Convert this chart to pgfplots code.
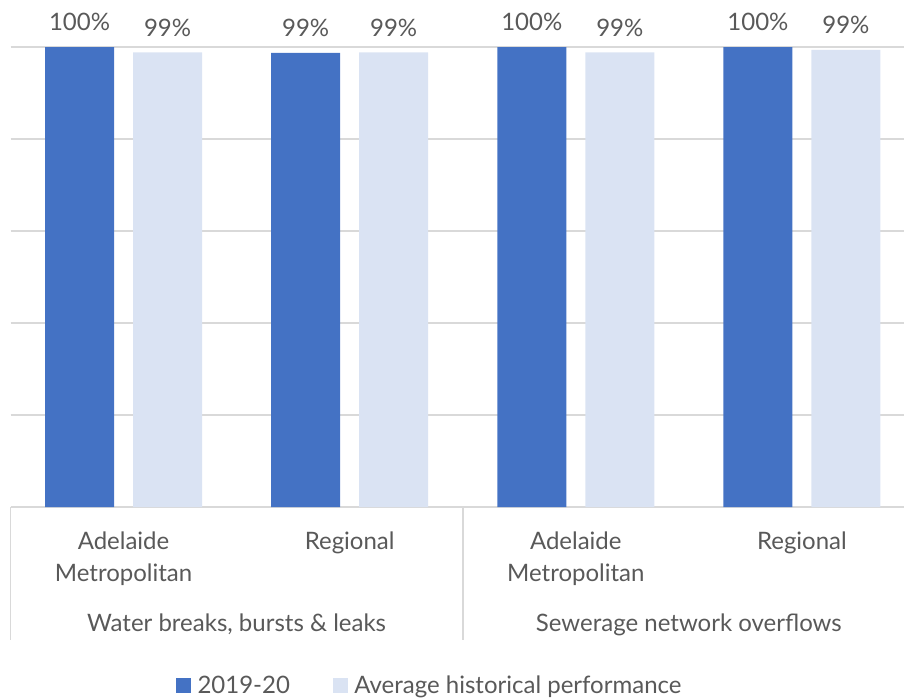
\documentclass[border=0pt]{standalone}
\usepackage{fontspec}
\setmainfont{Lato}
\usepackage{pgfplots}
\pgfplotsset{compat=1.18}
\definecolor{cblue}{HTML}{4472C4}
\definecolor{clight}{HTML}{DAE3F3}
\definecolor{cgrid}{HTML}{D9D9D9}
\definecolor{ctext}{HTML}{595959}
\newcommand\lf{\fontsize{18}{21}\selectfont}
\begin{document}
\begin{tikzpicture}
\begin{axis}[
 at={(0,0)}, anchor=south west,
 width=678.375pt, height=345pt, scale only axis,
 xmin=-0.5, xmax=3.5, ymin=0, ymax=100,
 ybar=14.25pt, bar width=51.75pt,
 axis line style={draw=none},
 ytick={0,20,40,60,80,100}, yticklabels={},
 ymajorgrids, major grid style={cgrid, line width=1.2pt},
 xtick=\empty,
 major tick length=0pt,
 clip=false,
 nodes near coords={\pgfmathprintnumber[fixed,precision=0,assume math mode=true]{\pgfplotspointmeta}\%},
 every node near coord/.append style={font=\lf, text=ctext, anchor=base, yshift=12pt, inner sep=0pt},
 legend style={at={(rel axis cs:0.4638,-0.389)}, anchor=center, draw=none, fill=none,
   legend columns=2, font=\lf, nodes={text=ctext}, inner sep=0pt,
   /tikz/every odd column/.append style={column sep=3pt},
   /tikz/every even column/.append style={column sep=30pt}},
 legend cell align=left,
 legend image code/.code={\fill[#1] (0pt,-5.6pt) rectangle (11.25pt,5.6pt);},
]
\addplot[fill=cblue, draw=none] coordinates {(0,100) (1,98.7) (2,100) (3,100)};
\addplot[fill=clight, draw=none] coordinates {(0,98.85) (1,98.85) (2,98.85) (3,99.35)};
\legend{2019-20, Average historical performance}
\draw[cgrid, line width=1.2pt] (axis cs:-0.5,0) -- (axis cs:-0.5,-28.9);
\draw[cgrid, line width=1.2pt] (axis cs:1.5,0) -- (axis cs:1.5,-28.9);
\draw[cgrid, line width=1.2pt] (axis cs:3.5,0) -- (axis cs:3.5,-28.9);
\node[font=\lf, text=ctext, anchor=base] at (axis cs:0,-9.13) {Adelaide};
\node[font=\lf, text=ctext, anchor=base] at (axis cs:0,-16.09) {Metropolitan};
\node[font=\lf, text=ctext, anchor=base] at (axis cs:1,-9.13) {Regional};
\node[font=\lf, text=ctext, anchor=base] at (axis cs:2,-9.13) {Adelaide};
\node[font=\lf, text=ctext, anchor=base] at (axis cs:2,-16.09) {Metropolitan};
\node[font=\lf, text=ctext, anchor=base] at (axis cs:3,-9.13) {Regional};
\node[font=\lf, text=ctext, anchor=base] at (axis cs:0.5,-27.17) {Water breaks, bursts \& leaks};
\node[font=\lf, text=ctext, anchor=base] at (axis cs:2.5,-27.17) {Sewerage network overflows};
\end{axis}
\pgfresetboundingbox
\path[use as bounding box] (-7.875pt,-142.5pt) rectangle (670.125pt,380.25pt);
\end{tikzpicture}
\end{document}
